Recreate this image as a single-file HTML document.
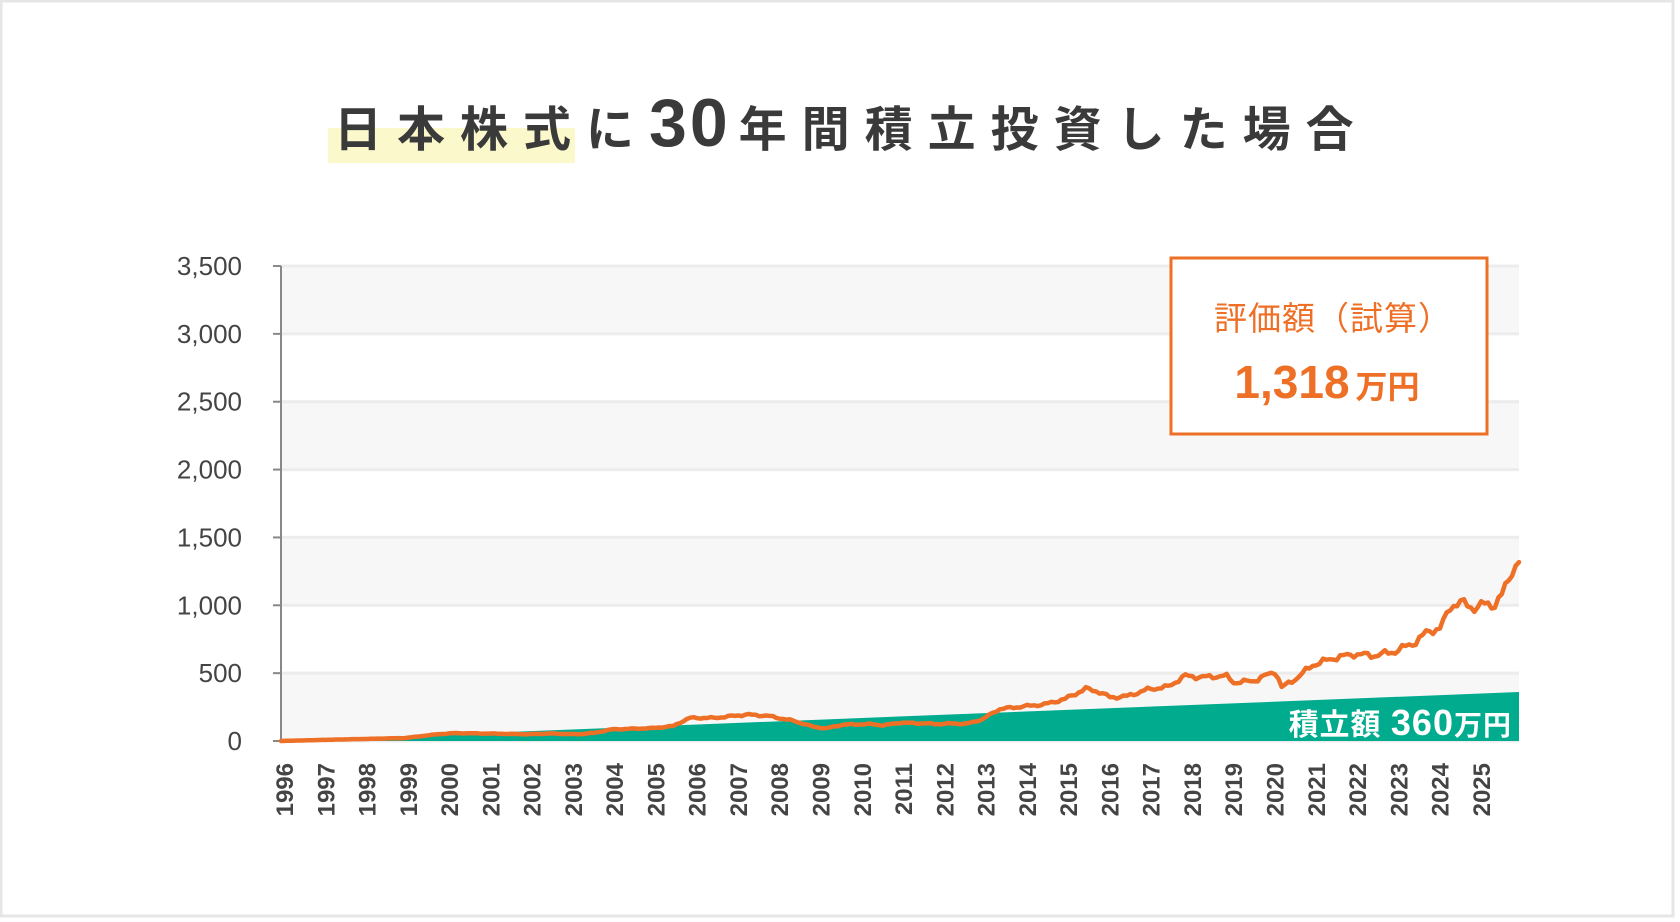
<!DOCTYPE html>
<html><head><meta charset="utf-8"><style>
html,body{margin:0;padding:0;background:#fff}
svg{display:block}
text{font-family:"Liberation Sans","Noto Sans CJK JP",sans-serif}
</style></head><body>
<svg id="s" width="1680" height="922" viewBox="0 0 1680 922" xmlns="http://www.w3.org/2000/svg">
<rect x="1" y="1" width="1672" height="915" fill="#fff" stroke="#e6e6e6" stroke-width="3"/>
<rect x="328" y="128" width="247" height="35" fill="#fbf8cc"/>
<text y="146" font-size="48" font-weight="bold" fill="#3a3a3a" letter-spacing="15"><tspan x="334">日本株式に</tspan><tspan font-size="68" letter-spacing="3">30</tspan><tspan dx="8">年間積立投資した場合</tspan></text>
<g id="bands"></g>
<polygon points="281,741 1519,692 1519,741" fill="#00ab8e"/>
<line x1="281" y1="266" x2="281" y2="741" stroke="#888" stroke-width="2"/>
<g id="yl" font-size="26" fill="#444" text-anchor="end"></g>
<g id="xl" font-size="24" font-weight="bold" fill="#444"></g>
<path id="ln" fill="none" stroke="#ee7027" stroke-width="4.5" stroke-linejoin="round" stroke-linecap="round"/>
<text x="1512" y="735" font-size="30" font-weight="bold" fill="#fff" text-anchor="end" letter-spacing="1">積立額 <tspan font-size="36">360</tspan><tspan font-size="28">万円</tspan></text>
<rect x="1171" y="258" width="316" height="176" fill="#fff" stroke="#ee7027" stroke-width="3"/>
<text x="1333" y="330" font-size="33" fill="#ee7027" text-anchor="middle" letter-spacing="1">評価額（試算）</text>
<text x="1327" y="398" font-size="46" font-weight="bold" fill="#ee7027" text-anchor="middle">1,318<tspan font-size="32" dx="6">万円</tspan></text>
</svg>
<script>
var NS="http://www.w3.org/2000/svg";
function el(p,t,a,txt){var e=document.createElementNS(NS,t);for(var k in a)e.setAttribute(k,a[k]);if(txt)e.textContent=txt;document.getElementById(p).appendChild(e);return e;}
function Y(v){return 741-v*0.13571;}
for(var i=0;i<7;i++){var y0=Y((i+1)*500),y1=Y(i*500);if(i%2==0)el('bands','rect',{x:281,y:y0,width:1238,height:y1-y0,fill:'#f7f7f7'});}
for(var i=0;i<=7;i++){var y=Y(i*500);el('bands','line',{x1:281,x2:1519,y1:y,y2:y,stroke:'#ececec','stroke-width':3});
el('bands','line',{x1:273,x2:281,y1:y,y2:y,stroke:'#888','stroke-width':2});
el('yl','text',{x:242,y:y+9},(i*500).toLocaleString('en-US'));}
for(var i=0;i<30;i++){var x=281+i*41.27+4;el('xl','text',{transform:'translate('+(x+8)+',763) rotate(-90)','text-anchor':'end'},String(1996+i));}
var k=[[1996,0],[1997,8],[1998,15],[1999,22],[1999.8,50],[2000.2,58],[2001,55],[2002,50],[2002.5,55],[2003.2,50],[2003.6,60],[2004,85],[2005,95],[2005.5,110],[2005.9,170],[2006.5,170],[2007.3,195],[2007.8,185],[2008.4,150],[2008.9,105],[2009.2,92],[2009.6,120],[2010.3,125],[2010.6,115],[2011,135],[2011.5,130],[2012,125],[2012.3,130],[2012.6,125],[2013,160],[2013.4,235],[2014,255],[2014.5,270],[2015,310],[2015.5,385],[2015.8,365],[2016.1,320],[2016.5,330],[2017,380],[2017.5,400],[2017.9,480],[2018.3,470],[2018.9,480],[2019.1,430],[2019.6,445],[2020.1,515],[2020.25,395],[2020.6,460],[2021,560],[2021.5,610],[2022,640],[2022.5,630],[2023,660],[2023.5,730],[2023.8,810],[2024.1,830],[2024.35,1000],[2024.6,1020],[2024.9,980],[2025.2,1010],[2025.4,1000],[2025.6,1080],[2025.85,1270],[2026,1318]];
var d='';
for(var t=1996;t<=2026.001;t+=1/12){var j=0;while(j<k.length-2&&k[j+1][0]<t)j++;var a=k[j],b=k[j+1],f=(t-a[0])/(b[0]-a[0]);var v=a[1]+(b[1]-a[1])*f;
if(t>1996.2&&t<2025.9)v+=v*0.025*Math.sin(t*13.1)+v*0.015*Math.sin(t*29.7);
var x=281+(t-1996)*41.267;d+=(d?'L':'M')+x.toFixed(1)+','+Y(v).toFixed(1);}
document.getElementById('ln').setAttribute('d',d);
</script>
</body></html>
